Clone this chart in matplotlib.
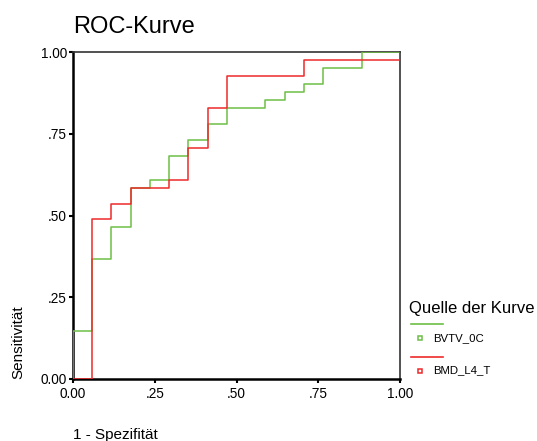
import matplotlib.pyplot as plt
from matplotlib.lines import Line2D

plt.rcParams["font.family"] = ["Liberation Sans", "DejaVu Sans"]

# ROC-Stufen: 17 Negative (x) und 41 Positive (y)
bvtv_fpr = [0.0, 0.0, 1, 1, 2, 2, 3, 3, 4, 4, 5, 5, 6, 6, 7, 7, 8, 8,
            10, 10, 11, 11, 12, 12, 13, 13, 15, 15, 17]
bvtv_tp = [0, 6, 6, 15, 15, 19, 19, 24, 24, 25, 25, 28, 28, 30, 30, 32,
           32, 34, 34, 35, 35, 36, 36, 37, 37, 39, 39, 41, 41]
bmd_fpr = [0, 1, 1, 2, 2, 3, 3, 5, 5, 6, 6, 7, 7, 8, 8, 12, 12, 17, 17]
bmd_tp = [0, 0, 20, 20, 22, 22, 24, 24, 25, 25, 29, 29, 34, 34, 38, 38,
          40, 40, 41]
n_neg, n_pos = 17, 41

series_names = ["BVTV_0C", "BMD_L4_T"]
series_colors = ["#6cbf45", "#ee2a2a"]
tick_values = [0.0, 0.25, 0.5, 0.75, 1.0]
tick_labels = ["0.00", ".25", ".50", ".75", "1.00"]

fig = plt.figure(figsize=(5.37, 4.41), dpi=100)
ax = fig.add_axes([73 / 537, 1 - 379 / 441, 327 / 537, 327 / 441])

ax.plot([v / n_neg for v in bvtv_fpr], [v / n_pos for v in bvtv_tp],
        color=series_colors[0], linewidth=1.1, zorder=3)
ax.plot([v / n_neg for v in bmd_fpr], [v / n_pos for v in bmd_tp],
        color=series_colors[1], linewidth=1.1, zorder=3)

ax.set_xlim(0, 1)
ax.set_ylim(0, 1)
ax.set_xticks(tick_values)
ax.set_xticklabels(tick_labels, fontsize=9.8)
ax.set_yticks(tick_values)
ax.set_yticklabels(tick_labels, fontsize=9.8)
ax.tick_params(direction="out", length=3, width=1.5)
ax.tick_params(axis="y", pad=1.5)
ax.tick_params(axis="x", pad=2.5)
for side in ("left", "bottom"):
    ax.spines[side].set_linewidth(1.8)
for side in ("top", "right"):
    ax.spines[side].set_linewidth(1.2)
    ax.spines[side].set_color("#333333")

fig.text(73 / 537, 1 - 33 / 441, "ROC-Kurve", fontsize=17, ha="left",
         va="baseline")
fig.text(18 / 537, 1 - 379 / 441, "Sensitivität", fontsize=11,
         rotation=90, ha="center", va="bottom")
fig.text(73 / 537, 1 - 439 / 441, "1 - Spezifität", fontsize=11,
         ha="left", va="baseline")

# Legende rechts neben dem Diagramm
fig.text(409 / 537, 1 - 313 / 441, "Quelle der Kurve", fontsize=12,
         ha="left", va="baseline")
for i, (name, color) in enumerate(zip(series_names, series_colors)):
    y_line = 1 - (324 + 32.5 * i) / 441
    y_mark = 1 - (338 + 32.5 * i) / 441
    fig.add_artist(Line2D([411 / 537, 443 / 537], [y_line, y_line],
                          color=color, linewidth=1.2,
                          transform=fig.transFigure))
    fig.add_artist(Line2D([420 / 537], [y_mark], marker="s", markersize=3.5,
                          markerfacecolor="white", markeredgecolor=color,
                          markeredgewidth=1.1, linestyle="none",
                          transform=fig.transFigure))
    fig.text(433 / 537, y_mark, name, fontsize=8.2, ha="left",
             va="center")

fig.savefig("out.png", dpi=100)
